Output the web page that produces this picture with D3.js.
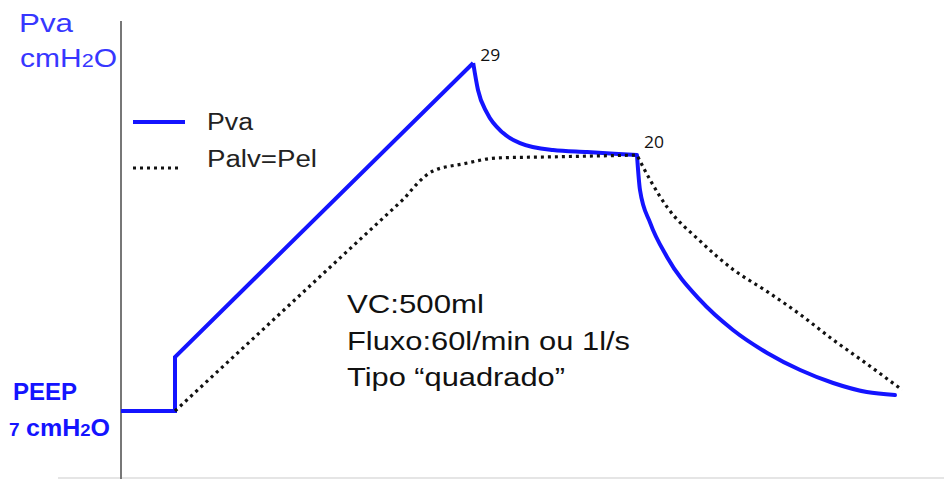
<!DOCTYPE html>
<html>
<head>
<meta charset="utf-8">
<script src="https://cdn.jsdelivr.net/npm/d3@7"></script>
<style>
  body { margin: 0; background: #fff; }
  svg { display: block; font-family: "Liberation Sans", Arial, sans-serif; }
</style>
</head>
<body>
<svg id="chart" width="944" height="479"></svg>
<script>
// time (s) and pressure (cmH2O, schematic)
const pvaTime = [0, 0.09, 0.09, 0.587, 0.595, 0.61, 0.637, 0.665, 0.72, 0.777, 0.86,
                 0.865, 0.882, 0.91, 0.965, 1.02, 1.077, 1.132, 1.187, 1.243, 1.29];
const pvaValue = [7, 7, 10.41, 29, 27.29, 25.84, 24.57, 23.94, 23.5, 23.37, 23.18,
                  20.97, 18.89, 16.74, 14.02, 12.12, 10.67, 9.59, 8.77, 8.2, 8.01];

const pelTime = [0.09, 0.473, 0.52, 0.57, 0.627, 0.71, 0.86,
                 0.882, 0.91, 0.965, 1.02, 1.077, 1.132, 1.187, 1.243, 1.302];
const pelValue = [7, 20.47, 22.17, 22.62, 23.0, 23.06, 23.18,
                  21.6, 19.9, 17.75, 15.95, 14.55, 13.1, 11.5, 9.98, 8.33];

const peakLabels = [{t: 0.587, v: 29, text: "29"}, {t: 0.86, v: 23.18, text: "20"}];
const legendItems = ["Pva", "Palv=Pel"];
const noteLines = ["VC:500ml", "Fluxo:60l/min ou 1l/s", "Tipo \u201cquadrado\u201d"];

const width = 944, height = 479;
const svg = d3.select("#chart");

const x = d3.scaleLinear().domain([0, 1.3717]).range([121, 944]);
const y = d3.scaleLinear().domain([7, 29]).range([411, 63]);

const blue = "#1414ff";
const labelBlue = "#3737ff";
const stretch = "spacingAndGlyphs";

// axes
svg.append("line")
    .attr("x1", 58).attr("x2", width)
    .attr("y1", 478).attr("y2", 478)
    .attr("stroke", "#dcdcdc").attr("stroke-width", 1.5);
svg.append("line")
    .attr("x1", x(0)).attr("x2", x(0))
    .attr("y1", 21).attr("y2", height)
    .attr("stroke", "#777").attr("stroke-width", 2);

const pva = pvaTime.map((t, i) => [t, pvaValue[i]]);
const pel = pelTime.map((t, i) => [t, pelValue[i]]);

const straight = d3.line().x(d => x(d[0])).y(d => y(d[1]));
const smooth = d3.line().x(d => x(d[0])).y(d => y(d[1])).curve(d3.curveMonotoneX);

svg.append("path")
    .attr("d", straight(pva.slice(0, 4)))
    .attr("fill", "none").attr("stroke", blue).attr("stroke-width", 4);
svg.append("path")
    .attr("d", smooth(pva.slice(3, 11)))
    .attr("fill", "none").attr("stroke", blue).attr("stroke-width", 4);
svg.append("path")
    .attr("d", smooth(pva.slice(10)))
    .attr("fill", "none").attr("stroke", blue).attr("stroke-width", 4)
    .attr("stroke-linecap", "round");

svg.append("path")
    .attr("d", straight(pel.slice(0, 2)) +
               smooth(pel.slice(1, 7)).replace(/^M/, "L") +
               smooth(pel.slice(6)).replace(/^M/, "L"))
    .attr("fill", "none").attr("stroke", "#111").attr("stroke-width", 3.2)
    .attr("stroke-dasharray", "3,4");

// peak values
const peakOffset = [[7, -2], [7, -7]];
svg.selectAll("text.peak")
    .data(peakLabels)
    .enter().append("text")
    .attr("class", "peak")
    .attr("x", (d, i) => x(d.t) + peakOffset[i][0])
    .attr("y", (d, i) => y(d.v) + peakOffset[i][1])
    .attr("font-family", "'Open Sans', sans-serif")
    .attr("font-size", 17)
    .attr("textLength", 20).attr("lengthAdjust", stretch)
    .attr("fill", "#111")
    .text(d => d.text);

// legend
const legend = svg.append("g");
legend.append("line")
    .attr("x1", 133).attr("x2", 185).attr("y1", 122).attr("y2", 122)
    .attr("stroke", blue).attr("stroke-width", 4);
legend.append("line")
    .attr("x1", 133).attr("x2", 182).attr("y1", 168).attr("y2", 168)
    .attr("stroke", "#111").attr("stroke-width", 3.2).attr("stroke-dasharray", "3,4");
const legendWidth = [46, 110];
legend.selectAll("text")
    .data(legendItems)
    .enter().append("text")
    .attr("x", 207)
    .attr("y", (d, i) => 130 + i * 37)
    .attr("font-size", 23)
    .attr("textLength", (d, i) => legendWidth[i]).attr("lengthAdjust", stretch)
    .attr("fill", "#222")
    .text(d => d);

// notes
const noteWidth = [137, 283, 218];
svg.append("g").selectAll("text")
    .data(noteLines)
    .enter().append("text")
    .attr("x", 347)
    .attr("y", (d, i) => 313 + i * 36.5)
    .attr("font-size", 25)
    .attr("textLength", (d, i) => noteWidth[i]).attr("lengthAdjust", stretch)
    .attr("fill", "#111")
    .text(d => d);

// y labels
svg.append("text")
    .attr("x", 19).attr("y", 32)
    .attr("font-size", 25).attr("textLength", 54).attr("lengthAdjust", stretch)
    .attr("fill", labelBlue)
    .text("Pva");
const unitTop = svg.append("text")
    .attr("x", 20).attr("y", 67)
    .attr("font-size", 25).attr("fill", labelBlue).attr("lengthAdjust", stretch)
    .attr("textLength", 97)
    .text("cmH");
unitTop.append("tspan").attr("font-size", 18).text("2");
unitTop.append("tspan").text("O");

svg.append("text")
    .attr("x", 13).attr("y", 400)
    .attr("font-size", 23).attr("font-weight", "bold").attr("fill", blue)
    .attr("textLength", 64).attr("lengthAdjust", stretch)
    .text("PEEP");
svg.append("text")
    .attr("x", 9).attr("y", 436)
    .attr("font-size", 19).attr("font-weight", "bold").attr("fill", blue)
    .text("7");
const unitBottom = svg.append("text")
    .attr("x", 26).attr("y", 436)
    .attr("font-size", 23).attr("font-weight", "bold").attr("fill", blue)
    .attr("textLength", 84).attr("lengthAdjust", stretch)
    .text("cmH");
unitBottom.append("tspan").attr("font-size", 17).text("2");
unitBottom.append("tspan").text("O");
</script>
</body>
</html>
